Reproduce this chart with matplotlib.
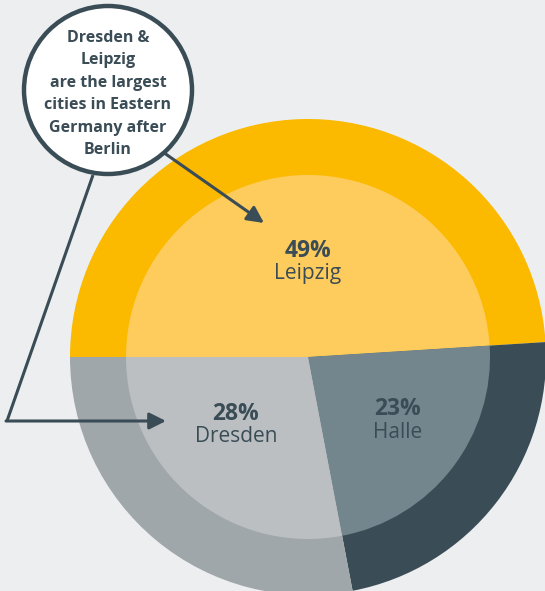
import matplotlib
matplotlib.use("Agg")
import matplotlib.pyplot as plt
from matplotlib.patches import Circle

# data
cities = ["Leipzig", "Halle", "Dresden"]
shares = [49, 23, 28]
outer_colors = ["#FBB900", "#3A4C55", "#A0A7AA"]
inner_colors = ["#FECC5C", "#73858D", "#BBBFC2"]
callout = "Dresden &\nLeipzig\nare the largest\ncities in Eastern\nGermany after\nBerlin"

W, H = 545, 591
dark = "#3A4C55"
bg = "#ECEEF0"


def fy(y):
    # pixel row -> data y
    return H - y


plt.rcParams["font.family"] = ["Open Sans", "DejaVu Sans"]

fig = plt.figure(figsize=(W / 100, H / 100), dpi=100, facecolor=bg)
ax = fig.add_axes([0, 0, 1, 1])
ax.set_facecolor(bg)

cx, cy = 308, fy(357)
ax.pie(shares, colors=outer_colors, radius=238, center=(cx, cy),
       startangle=180, counterclock=False, wedgeprops=dict(linewidth=0))
ax.pie(shares, colors=inner_colors, radius=182, center=(cx, cy),
       startangle=180, counterclock=False, wedgeprops=dict(linewidth=0))

ax.set_xlim(0, W)
ax.set_ylim(0, H)
ax.set_aspect("equal")
ax.axis("off")

# labels
label_pos = {"Leipzig": (308, 262), "Halle": (398, 420), "Dresden": (236, 425)}
for name, val in zip(cities, shares):
    x, y = label_pos[name]
    ax.text(x, fy(y - 11), f"{val}%", ha="center", va="center",
            fontsize=16.5, fontweight="bold", color=dark)
    ax.text(x, fy(y + 12), name, ha="center", va="center",
            fontsize=15, color=dark)

# callout lines
ax.plot([93, 7], [fy(175), fy(421)], color=dark, lw=2.2, solid_capstyle="butt")
arrow = dict(arrowstyle="-|>,head_length=1.0,head_width=0.5", color=dark,
             lw=2.2, shrinkA=0, shrinkB=0)
ax.annotate("", xy=(166, fy(421)), xytext=(6, fy(421)), arrowprops=arrow)
ax.annotate("", xy=(264, fy(223)), xytext=(160, fy(150)), arrowprops=arrow)

# callout bubble
ax.add_patch(Circle((108, fy(90)), 84, facecolor="white", edgecolor=dark,
                    lw=3.2, zorder=5))
ax.text(108, fy(94), callout, ha="center", va="center", fontsize=11.5,
        fontweight="bold", color=dark, linespacing=1.55, zorder=6)

fig.savefig("out.png", dpi=100, facecolor=bg)
